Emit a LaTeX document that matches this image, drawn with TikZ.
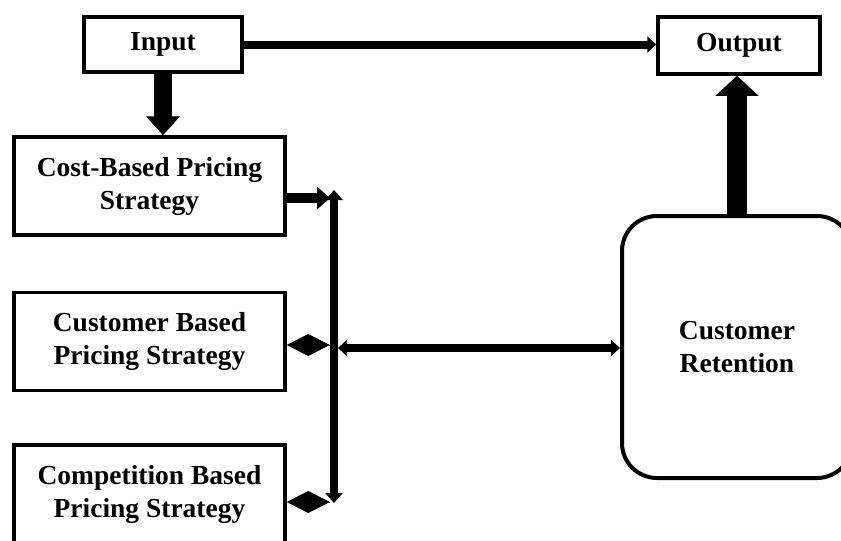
\documentclass[tikz,border=0pt]{standalone}
\usepackage{fontspec}
\setmainfont{Liberation Serif}
\usetikzlibrary{arrows.meta}
\begin{document}
\begin{tikzpicture}[x=1pt,y=-1pt,
  box/.style={draw,line width=3.5pt,inner sep=0pt,align=center,
    font=\fontsize{27.5}{33}\selectfont\bfseries},
  rbox/.style={box,line width=4pt,rounded corners=35pt},
  conn/.style={line width=#1},
]
\useasboundingbox (0,0) rectangle (841,541);
\node[box,minimum width=158pt,minimum height=55pt] (inp) at (163,44.5) {Input};
\node[box,minimum width=162pt,minimum height=57pt] (out) at (739,45.5) {Output};
\node[box,minimum width=271pt,minimum height=98pt] (cost) at (149.5,186) {Cost-Based Pricing\\Strategy};
\node[box,minimum width=271pt,minimum height=98pt] (cust) at (149.5,341.5) {Customer Based\\Pricing Strategy};
\node[box,minimum width=271pt,minimum height=98pt] (comp) at (149.5,494) {Competition Based\\Pricing Strategy};
\node[rbox,minimum width=230pt,minimum height=262pt] (cr) at (737,347) {Customer\\Retention};

\coordinate (busTop) at (334,190);
\coordinate (busBot) at (334,503);
\coordinate (cbIn) at (330,198);
\coordinate (cuIn) at (330,345);
\coordinate (coIn) at (330,502);
\coordinate (crOut) at (338,348);

% Input -> Output
\draw[conn=8pt,-{Triangle[width=16pt,length=9pt]}] (inp.east) -- (inp.east -| out.west);
% Input -> Cost
\draw[conn=18pt,-{Triangle[width=33pt,length=19pt]}] (inp.south) -- (inp.south |- cost.north);
% Retention -> Output
\draw[conn=20pt,-{Triangle[width=42pt,length=20pt]}] (cr.north) -- (cr.north |- out.south);
% bus
\draw[conn=8pt,{Triangle[width=17pt,length=10pt]}-{Triangle[width=17pt,length=10pt]}] (busBot) -- (busTop);
% Cost -> bus
\draw[conn=10pt,-{Triangle[width=22pt,length=13pt]}] (cost.east |- cbIn) -- (cbIn);
% diamonds
\draw[conn=1pt,{Diamond[width=22pt,length=43pt]}-] (cust.east |- cuIn) -- (cuIn);
\draw[conn=1pt,{Diamond[width=22pt,length=43pt]}-] (comp.east |- coIn) -- (coIn);
% bus <-> retention
\draw[conn=8pt,{Triangle[width=16pt,length=9pt]}-{Triangle[width=16pt,length=9pt]}] (crOut) -- (crOut -| cr.west);
\end{tikzpicture}
\end{document}
